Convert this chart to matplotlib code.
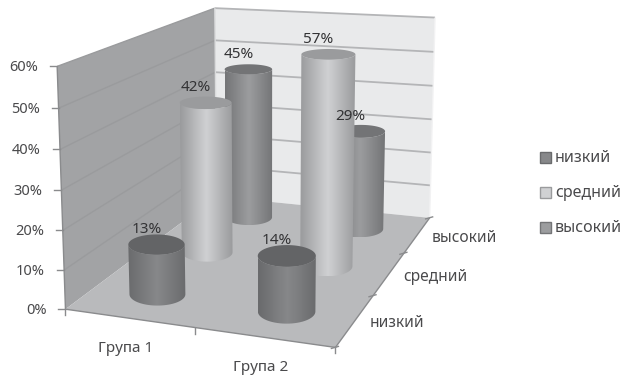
import numpy as np
import matplotlib
matplotlib.use('Agg')
import matplotlib.pyplot as plt
from matplotlib.colors import LinearSegmentedColormap
from matplotlib.patches import Polygon, Rectangle

plt.rcParams['font.family'] = ['Noto Sans', 'DejaVu Sans']

groups = ['Група 1', 'Група 2']
levels = ['низкий', 'средний', 'высокий']
level_values = {
    'низкий': [13, 14],
    'средний': [42, 57],
    'высокий': [45, 29],
}
y_ticks = [0, 10, 20, 30, 40, 50, 60]

# (side edge, side middle, top) for each series
level_colors = {
    'низкий': ('#6a6b6d', '#87888a', '#636466'),
    'средний': ('#9a9b9d', '#d0d1d3', '#9a9b9d'),
    'высокий': ('#747577', '#9c9d9f', '#737476'),
}

# where the corners of the 3D box land in the picture, used for the projection
BOX_CORNERS = [
    ((0, 0, 0), (66, 309)),
    ((2, 0, 0), (335, 348)),
    ((2, 3, 0), (430, 217)),
    ((0, 3, 0), (216, 197)),
    ((0, 0, 60), (57, 66)),
    ((0, 3, 60), (215, 8)),
    ((2, 3, 60), (435, 18)),
]


def fit_camera(corners):
    rows = []
    for (x, y, z), (u, v) in corners:
        rows.append([x, y, z, 1, 0, 0, 0, 0, -u * x, -u * y, -u * z, -u])
        rows.append([0, 0, 0, 0, x, y, z, 1, -v * x, -v * y, -v * z, -v])
    return np.linalg.svd(np.array(rows, dtype=float))[2][-1].reshape(3, 4)


CAMERA = fit_camera(BOX_CORNERS)


def project(x, y, z):
    x, y, z = np.broadcast_arrays(x, y, z)
    p = CAMERA @ np.stack([x, y, z, np.ones_like(x)]).astype(float).reshape(4, -1)
    out = (p[:2] / p[2]).T
    return out[0] if x.ndim == 0 else out


def face(ax, pts, color, z=1):
    ax.add_patch(Polygon([project(*p) for p in pts], closed=True, fc=color, ec='none', zorder=z))


def line3d(ax, a, b, color, lw=1.0, z=2):
    p = project(*a)
    q = project(*b)
    ax.plot([p[0], q[0]], [p[1], q[1]], color=color, lw=lw, zorder=z, solid_capstyle='butt')


def level_ellipse(cx, cy, value):
    # the projected circle, straightened so its long axis lies level on the page
    theta = np.linspace(0, 2 * np.pi, 121)
    xs = cx + 0.2 * np.cos(theta)
    ys = cy + 0.235 * np.sin(theta)
    pts = project(xs, ys, 0 * xs + value)
    mid = (pts.min(axis=0) + pts.max(axis=0)) / 2
    half = (pts.max(axis=0) - pts.min(axis=0)) / 2
    return np.column_stack([mid[0] + half[0] * np.cos(theta), mid[1] + half[1] * np.sin(theta)]), mid


def cylinder(ax, cx, cy, value, colors, z):
    bottom, _ = level_ellipse(cx, cy, 0)
    top, mid = level_ellipse(cx, cy, value)

    # with y pointing down the first half of each ellipse is its front edge
    body = np.vstack([bottom[:61], top[:61][::-1]])

    cmap = LinearSegmentedColormap.from_list('side', [colors[0], colors[1], colors[0]])
    im = ax.imshow(
        np.linspace(0, 1, 64)[None, :],
        cmap=cmap,
        aspect='auto',
        extent=(body[:, 0].min(), body[:, 0].max(), body[:, 1].max(), body[:, 1].min()),
        zorder=z,
    )
    patch = Polygon(body, closed=True, transform=ax.transData, fc='none', ec='none')
    ax.add_patch(patch)
    im.set_clip_path(patch)
    ax.add_patch(Polygon(top, closed=True, fc=colors[2], ec='none', zorder=z + 0.1))
    return mid


def main():
    fig = plt.figure(figsize=(6.21, 3.8), dpi=100)
    ax = fig.add_axes([0, 0, 1, 1])

    # Walls and floor
    face(ax, [(0, 0, 0), (0, 3, 0), (0, 3, 60), (0, 0, 60)], '#a2a3a5')
    face(ax, [(0, 3, 0), (2, 3, 0), (2, 3, 60), (0, 3, 60)], '#e9eaeb')
    for v in y_ticks[1:]:
        line3d(ax, (0, 0, v), (0, 3, v), '#9a9b9d', 1.0)
        line3d(ax, (0, 3, v), (2, 3, v), '#b4b5b7', 1.3)
    line3d(ax, (0, 3, 0), (0, 3, 60), '#d9dadb', 1.0)
    line3d(ax, (2, 3, 0), (2, 3, 60), '#f2f2f3', 1.0)
    face(ax, [(0, 0, 0), (2, 0, 0), (2, 3, 0), (0, 3, 0)], '#b9babc', z=3)

    # Axis lines and ticks
    line3d(ax, (0, 0, 0), (0, 0, 60), '#8a8b8d', 1.0, z=4)
    line3d(ax, (0, 0, 0), (2, 0, 0), '#8a8b8d', 1.0, z=4)
    line3d(ax, (2, 0, 0), (2, 3, 0), '#8a8b8d', 1.0, z=4)
    for v in y_ticks:
        p = project(0, 0, v)
        ax.plot([p[0] - 7, p[0]], [p[1], p[1]], color='#8a8b8d', lw=1, zorder=4)
        ax.text(p[0] - 19, p[1] + 1, f'{v}%', ha='right', va='center', fontsize=10.5, color='#4a4a4c')
    for i in range(3):
        p = project(i, 0, 0)
        ax.plot([p[0], p[0]], [p[1], p[1] + 6], color='#8a8b8d', lw=1, zorder=4)
    for j in range(4):
        p = project(2, j, 0)
        ax.plot([p[0] - 4, p[0] + 3], [p[1] + 1, p[1] - 1], color='#8a8b8d', lw=1, zorder=4)

    for i, name in enumerate(groups):
        p = project(i + 0.5, 0, 0)
        ax.text(p[0] - 3, p[1] + 30, name, ha='center', va='center', fontsize=11, color='#4a4a4c')
    for j, name in enumerate(levels):
        p = project(2, j + 0.5, 0)
        ax.text(p[0] + 14, p[1] + 3, name, ha='left', va='center', fontsize=11.2, color='#4a4a4c')

    # Cylinders back to front
    z = 5
    for j in reversed(range(len(levels))):
        name = levels[j]
        for i in range(len(groups)):
            value = level_values[name][i]
            top = cylinder(ax, i + 0.5, j + 0.5, value, level_colors[name], z)
            ax.text(top[0] - 10, top[1] - 15, f'{value}%', ha='center', va='center',
                    fontsize=11, color='#333335', zorder=20)
            z += 1

    # Legend
    for name, y in zip(levels, [157, 192, 227]):
        ax.add_patch(Rectangle((540, y - 5), 11, 11, fc=level_colors[name][1], ec=level_colors[name][0], lw=1, zorder=4))
        ax.text(555, y + 1, name, ha='left', va='center', fontsize=11.5, color='#4a4a4c')

    ax.set_xlim(0, 621)
    ax.set_ylim(380, 0)
    ax.axis('off')
    fig.savefig('out.png', dpi=100, facecolor='white')


if __name__ == '__main__':
    main()
